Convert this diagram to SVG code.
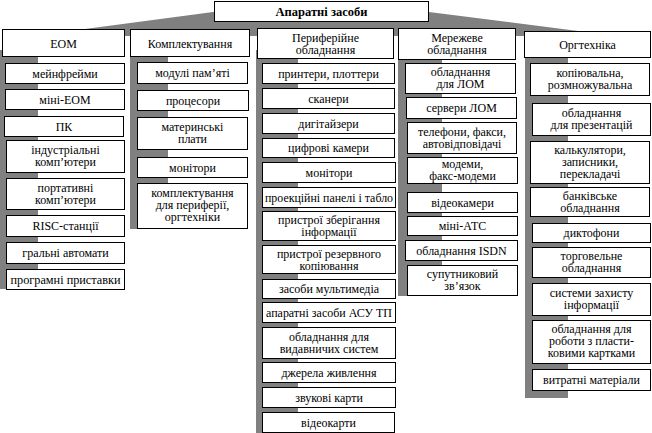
<svg xmlns="http://www.w3.org/2000/svg" width="652" height="433" viewBox="0 0 652 433">
<style>
rect.b{fill:#fff;stroke:#000;stroke-width:1}
.g{fill:#808080}
text{font-family:Liberation Serif,serif;font-size:12px;text-anchor:middle;fill:#000}
text.t{font-weight:bold;font-size:12.5px}
</style>
<rect width="652" height="433" fill="#fff"/>
<g id="connectors">
<polygon class="g" points="85,29 213,12 429,12 578,31 578,36 85,36"/>
<rect class="g" x="0" y="50" width="38" height="239"/>
<rect class="g" x="130" y="50" width="38" height="179"/>
<rect class="g" x="256" y="50" width="42" height="383"/>
<rect class="g" x="398" y="50" width="44" height="246"/>
<rect class="g" x="525" y="50" width="43" height="348"/>
</g>
<g id="root"><rect class="b" x="214.5" y="1.5" width="214" height="20"/><text class="t" x="321.5" y="16">Апаратні засоби</text></g>
<g id="h1"><rect class="b" x="2.5" y="29.5" width="122" height="27"/><text x="63.5" y="47.5">ЕОМ</text></g>
<g id="h2"><rect class="b" x="130.5" y="29.5" width="119" height="27"/><text x="190" y="47.5">Комплектування</text></g>
<g id="h3"><rect class="b" x="257.5" y="28.5" width="136" height="30"/><text x="325.5" y="41.5">Периферійне</text><text x="325.5" y="53.5">обладнання</text></g>
<g id="h4"><rect class="b" x="398.5" y="28.5" width="117" height="31"/><text x="457" y="42">Мережеве</text><text x="457" y="54">обладнання</text></g>
<g id="h5"><rect class="b" x="524.5" y="31.5" width="126" height="26"/><text x="587.5" y="49">Оргтехніка</text></g>

<g id="c1_1"><rect class="b" x="5.5" y="63.5" width="119" height="20"/><text x="65" y="78">мейнфрейми</text></g>
<g id="c1_2"><rect class="b" x="5.5" y="89.5" width="119" height="20"/><text x="65" y="104">міні-ЕОМ</text></g>
<g id="c1_3"><rect class="b" x="4.5" y="116.5" width="119" height="20"/><text x="64" y="131">ПК</text></g>
<g id="c1_4"><rect class="b" x="6.5" y="140.5" width="118" height="32"/><text x="65.5" y="154">індустріальні</text><text x="65.5" y="166">комп’ютери</text></g>
<g id="c1_5"><rect class="b" x="6.5" y="178.5" width="118" height="31"/><text x="65.5" y="192">портативні</text><text x="65.5" y="204">комп’ютери</text></g>
<g id="c1_6"><rect class="b" x="6.5" y="215.5" width="118" height="21"/><text x="65.5" y="230">RISC-станції</text></g>
<g id="c1_7"><rect class="b" x="6.5" y="242.5" width="118" height="21"/><text x="65.5" y="257">гральні автомати</text></g>
<g id="c1_8"><rect class="b" x="6.5" y="269.5" width="118" height="20"/><text x="65.5" y="284" textLength="110" lengthAdjust="spacingAndGlyphs">програмні приставки</text></g>

<g id="c2_1"><rect class="b" x="137.5" y="62.5" width="110" height="21"/><text x="192.5" y="77">модулі пам’яті</text></g>
<g id="c2_2"><rect class="b" x="137.5" y="90.5" width="111" height="20"/><text x="193" y="105">процесори</text></g>
<g id="c2_3"><rect class="b" x="137.5" y="117.5" width="110" height="32"/><text x="192.5" y="131">материнські</text><text x="192.5" y="143">плати</text></g>
<g id="c2_4"><rect class="b" x="137.5" y="157.5" width="110" height="20"/><text x="192.5" y="172">монітори</text></g>
<g id="c2_5"><rect class="b" x="137.5" y="183.5" width="110" height="45"/><text x="192.5" y="197">комплектування</text><text x="192.5" y="209">для периферії,</text><text x="192.5" y="221">оргтехніки</text></g>

<g id="c3_1"><rect class="b" x="262.5" y="63.5" width="132" height="20"/><text x="328.5" y="78">принтери, плоттери</text></g>
<g id="c3_2"><rect class="b" x="262.5" y="88.5" width="132" height="20"/><text x="328.5" y="103">сканери</text></g>
<g id="c3_3"><rect class="b" x="262.5" y="113.5" width="132" height="20"/><text x="328.5" y="128">дигітайзери</text></g>
<g id="c3_4"><rect class="b" x="262.5" y="138.5" width="132" height="19"/><text x="328.5" y="152">цифрові камери</text></g>
<g id="c3_5"><rect class="b" x="262.5" y="162.5" width="133" height="20"/><text x="329" y="177">монітори</text></g>
<g id="c3_6"><rect class="b" x="262.5" y="187.5" width="133" height="20"/><text x="329" y="202" textLength="128" lengthAdjust="spacingAndGlyphs">проекційні панелі і табло</text></g>
<g id="c3_7"><rect class="b" x="262.5" y="211.5" width="133" height="29"/><text x="329" y="224">пристрої зберігання</text><text x="329" y="236">інформації</text></g>
<g id="c3_8"><rect class="b" x="262.5" y="245.5" width="133" height="28"/><text x="329" y="258">пристрої резервного</text><text x="329" y="270">копіювання</text></g>
<g id="c3_9"><rect class="b" x="262.5" y="279.5" width="133" height="19"/><text x="329" y="293">засоби мультимедіа</text></g>
<g id="c3_10"><rect class="b" x="262.5" y="302.5" width="133" height="20"/><text x="329" y="317" textLength="126" lengthAdjust="spacingAndGlyphs">апаратні засоби АСУ ТП</text></g>
<g id="c3_11"><rect class="b" x="262.5" y="327.5" width="133" height="31"/><text x="329" y="341">обладнання для</text><text x="329" y="353">видавничих систем</text></g>
<g id="c3_12"><rect class="b" x="262.5" y="362.5" width="133" height="20"/><text x="329" y="377">джерела живлення</text></g>
<g id="c3_13"><rect class="b" x="262.5" y="387.5" width="133" height="20"/><text x="329" y="402">звукові карти</text></g>
<g id="c3_14"><rect class="b" x="262.5" y="412.5" width="132" height="20"/><text x="328.5" y="427">відеокарти</text></g>

<g id="c4_1"><rect class="b" x="405.5" y="63.5" width="110" height="30"/><text x="460.5" y="76">обладнання</text><text x="460.5" y="88">для ЛОМ</text></g>
<g id="c4_2"><rect class="b" x="406.5" y="97.5" width="110" height="21"/><text x="461.5" y="112">сервери ЛОМ</text></g>
<g id="c4_3"><rect class="b" x="407.5" y="122.5" width="109" height="31"/><text x="462" y="136">телефони, факси,</text><text x="462" y="148">автовідповідачі</text></g>
<g id="c4_4"><rect class="b" x="407.5" y="157.5" width="110" height="26"/><text x="462.5" y="168">модеми,</text><text x="462.5" y="180">факс-модеми</text></g>
<g id="c4_5"><rect class="b" x="407.5" y="192.5" width="110" height="20"/><text x="462.5" y="207">відеокамери</text></g>
<g id="c4_6"><rect class="b" x="407.5" y="216.5" width="110" height="19"/><text x="462.5" y="230">міні-АТС</text></g>
<g id="c4_7"><rect class="b" x="405.5" y="240.5" width="112" height="20"/><text x="461.5" y="255">обладнання ISDN</text></g>
<g id="c4_8"><rect class="b" x="407.5" y="265.5" width="110" height="30"/><text x="462.5" y="278">супутниковий</text><text x="462.5" y="290">зв’язок</text></g>

<g id="c5_1"><rect class="b" x="530.5" y="63.5" width="119" height="32"/><text x="590" y="77">копіювальна,</text><text x="590" y="89">розмножувальна</text></g>
<g id="c5_2"><rect class="b" x="532.5" y="103.5" width="118" height="32"/><text x="591.5" y="117">обладнання</text><text x="591.5" y="129">для презентацій</text></g>
<g id="c5_3"><rect class="b" x="530.5" y="141.5" width="119" height="42"/><text x="590" y="154">калькулятори,</text><text x="590" y="166">записники,</text><text x="590" y="178">перекладачі</text></g>
<g id="c5_4"><rect class="b" x="530.5" y="187.5" width="119" height="29"/><text x="590" y="200">банківське</text><text x="590" y="212">обладнання</text></g>
<g id="c5_5"><rect class="b" x="532.5" y="223.5" width="118" height="19"/><text x="591.5" y="237">диктофони</text></g>
<g id="c5_6"><rect class="b" x="532.5" y="247.5" width="118" height="30"/><text x="591.5" y="260">торговельне</text><text x="591.5" y="272">обладнання</text></g>
<g id="c5_7"><rect class="b" x="532.5" y="283.5" width="118" height="32"/><text x="591.5" y="297">системи захисту</text><text x="591.5" y="309">інформації</text></g>
<g id="c5_8"><rect class="b" x="532.5" y="320.5" width="118" height="43"/><text x="591.5" y="333">обладнання для</text><text x="591.5" y="345">роботи з пласти-</text><text x="591.5" y="357">ковими картками</text></g>
<g id="c5_9"><rect class="b" x="532.5" y="369.5" width="118" height="21"/><text x="591.5" y="384">витратні матеріали</text></g>
</svg>
